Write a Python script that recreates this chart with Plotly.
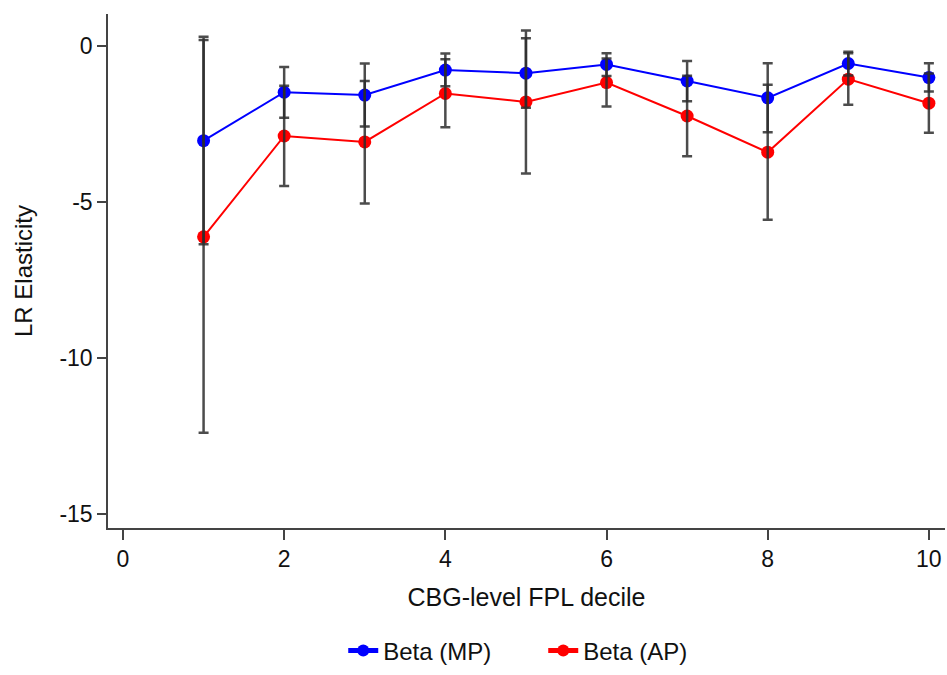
import plotly.graph_objects as go

deciles = [1, 2, 3, 4, 5, 6, 7, 8, 9, 10]

beta_mp = [-3.04, -1.49, -1.58, -0.78, -0.88, -0.60, -1.13, -1.67, -0.57, -1.02]
mp_lo = [-6.36, -2.31, -2.59, -1.30, -1.99, -0.97, -1.78, -2.77, -0.95, -1.47]
mp_hi = [0.29, -0.68, -0.57, -0.25, 0.24, -0.24, -0.49, -0.56, -0.19, -0.56]

beta_ap = [-6.12, -2.89, -3.08, -1.53, -1.80, -1.18, -2.25, -3.41, -1.07, -1.84]
ap_lo = [-12.39, -4.49, -5.05, -2.61, -4.09, -1.95, -3.54, -5.57, -1.89, -2.79]
ap_hi = [0.18, -1.28, -1.13, -0.43, 0.49, -0.41, -0.96, -1.25, -0.24, -0.89]

x_ticks = [0, 2, 4, 6, 8, 10]
y_ticks = [0, -5, -10, -15]
y_tick_labels = ["0", "-5", "-10", "-15"]

FONT = "Liberation Sans, Arial, sans-serif"
ERR_COLOR = "rgba(45,45,45,0.85)"

fig = go.Figure()

fig.add_trace(go.Scatter(
    x=deciles, y=beta_mp, mode="lines+markers", name="Beta (MP)",
    line=dict(color="#0000FF", width=2), marker=dict(color="#0000FF", size=13),
))
fig.add_trace(go.Scatter(
    x=deciles, y=beta_ap, mode="lines+markers", name="Beta (AP)",
    line=dict(color="#FF0000", width=2), marker=dict(color="#FF0000", size=13),
))

for est, lo, hi in [(beta_mp, mp_lo, mp_hi), (beta_ap, ap_lo, ap_hi)]:
    fig.add_trace(go.Scatter(
        x=deciles, y=est, mode="markers", showlegend=False, hoverinfo="skip",
        marker=dict(size=1, opacity=0),
        error_y=dict(
            type="data", symmetric=False,
            array=[h - e for h, e in zip(hi, est)],
            arrayminus=[e - l for e, l in zip(est, lo)],
            color=ERR_COLOR, thickness=2.5, width=5,
        ),
    ))

fig.update_layout(
    width=947, height=675,
    margin=dict(l=108, r=2, t=14, b=142),
    plot_bgcolor="white", paper_bgcolor="white",
    font=dict(family=FONT, size=23, color="#111111"),
    showlegend=True,
    legend=dict(
        orientation="h", x=0.52, xanchor="center", y=-0.239, yanchor="middle",
        font=dict(size=24), itemsizing="constant", entrywidth=155,
    ),
    xaxis=dict(
        range=[-0.186, 10.2], tickvals=x_ticks, showgrid=False, zeroline=False,
        showline=True, linecolor="#444444", linewidth=1.5,
        ticks="outside", ticklen=10, tickcolor="#444444", tickwidth=1.5,
        title=dict(text="CBG-level FPL decile", font=dict(size=25), standoff=17),
        automargin=False,
    ),
    yaxis=dict(
        range=[-15.44, 1.015], tickvals=y_ticks, ticktext=y_tick_labels,
        showgrid=False, zeroline=False,
        showline=True, linecolor="#444444", linewidth=1.5,
        ticks="outside", ticklen=9, tickcolor="#444444", tickwidth=1.5,
        title=dict(text="LR Elasticity", font=dict(size=24), standoff=20),
        automargin=False,
    ),
)

fig.write_html("out.html")
